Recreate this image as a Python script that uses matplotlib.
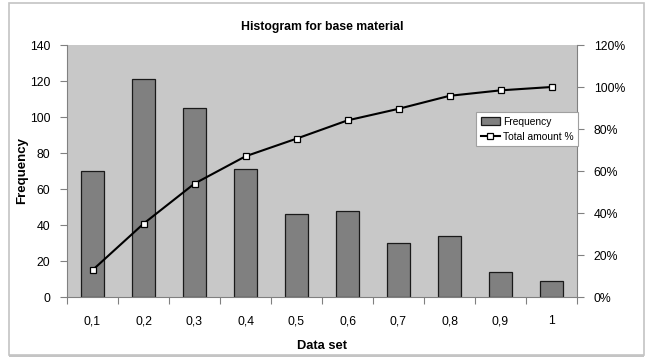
import matplotlib
matplotlib.use("Agg")
import matplotlib.pyplot as plt
from matplotlib.patches import Rectangle
from matplotlib.ticker import FuncFormatter, FixedLocator, NullFormatter

plt.rcParams['font.family'] = ['Liberation Sans', 'DejaVu Sans']

categories = ['0,1', '0,2', '0,3', '0,4', '0,5', '0,6', '0,7', '0,8', '0,9', '1']
frequency = [70, 121, 105, 71, 46, 48, 30, 34, 14, 9]
total_pct = [12.8, 34.9, 54.0, 67.0, 75.4, 84.1, 89.6, 95.8, 98.4, 100.0]

fig = plt.figure(figsize=(6.51, 3.58), dpi=100)
fig.patch.set_facecolor('white')
# outer frame
fig.patches.append(Rectangle((9/651, 1-355/358), (644-9)/651, (355-3)/358,
                             transform=fig.transFigure, fill=False,
                             edgecolor='#c4c4c4', linewidth=1.2))
fig.patches.append(Rectangle((9/651, 1-357/358), (644-9)/651, 2/358,
                             transform=fig.transFigure, fill=True,
                             facecolor='#c4c4c4', edgecolor='none'))

ax = fig.add_axes([67/651, 1-297/358, (577-67)/651, (297-45)/358])
ax.set_facecolor('#c8c8c8')
x = list(range(len(categories)))
ax.bar(x, frequency, width=0.46, color='#808080', edgecolor='#1a1a1a',
       linewidth=0.9, label='Frequency', zorder=2)
ax.set_xlim(-0.5, len(categories) - 0.5)
ax.set_ylim(0, 140)
ax.set_yticks(range(0, 141, 20))
ax.xaxis.set_major_locator(FixedLocator([i - 0.5 for i in range(len(categories) + 1)]))
ax.xaxis.set_major_formatter(NullFormatter())
ax.xaxis.set_minor_locator(FixedLocator(x))
ax.set_xticklabels(categories, minor=True)
ax.tick_params(axis='x', which='minor', length=0, pad=13, labelsize=8.8)
ax.tick_params(axis='x', which='major', length=5, color='#808080', width=0.8)
ax.tick_params(axis='y', length=5, color='#808080', width=0.8, labelsize=8.8, pad=7)
for s in ['top', 'right']:
    ax.spines[s].set_visible(False)
ax.spines['left'].set_color('#808080')
ax.spines['bottom'].set_color('#808080')
ax.set_ylabel('Frequency', fontsize=9.5, fontweight='bold')
ax.yaxis.set_label_coords((28-67)/510, 0.5)
ax.set_xlabel('Data set', fontsize=9.3, fontweight='bold')
ax.xaxis.set_label_coords(0.5, -(340-297)/252)
ax.set_title('Histogram for base material', fontsize=8.8, fontweight='bold', pad=11)

ax2 = ax.twinx()
ax2.plot(x, total_pct, color='black', linewidth=1.5, marker='s', markersize=5,
         markerfacecolor='white', markeredgecolor='black', markeredgewidth=0.9,
         label='Total amount %', zorder=3)
ax2.set_ylim(0, 120)
ax2.set_yticks(range(0, 121, 20))
ax2.yaxis.set_major_formatter(FuncFormatter(lambda v, p: f'{int(v)}%'))
ax2.tick_params(axis='y', length=5, color='#808080', width=0.8, labelsize=8.8, pad=7)
for s in ['top', 'left', 'bottom']:
    ax2.spines[s].set_visible(False)
ax2.spines['right'].set_color('#808080')

h1, l1 = ax.get_legend_handles_labels()
h2, l2 = ax2.get_legend_handles_labels()
leg = ax2.legend(h1 + h2, l1 + l2, loc='upper left',
                 bbox_to_anchor=((476-67)/510, 1-(112-45)/252),
                 fontsize=7.4, frameon=True, fancybox=False, framealpha=1,
                 edgecolor='#a0a0a0', borderpad=0.45, handlelength=1.9,
                 handletextpad=0.3, labelspacing=0.5, borderaxespad=0)
leg.get_frame().set_linewidth(0.8)

fig.savefig('out.png', dpi=100, facecolor='white')
